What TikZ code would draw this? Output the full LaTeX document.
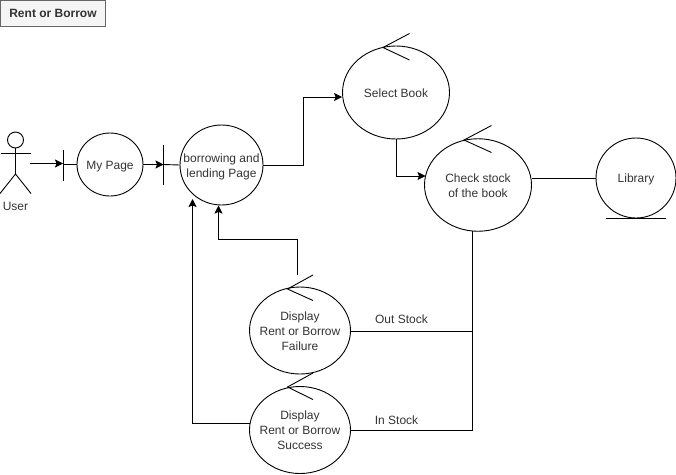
\documentclass[tikz,border=0pt]{standalone}
\usepackage{fontspec}
\setmainfont{Liberation Sans}
\usetikzlibrary{shapes.geometric,arrows.meta}
\newcommand{\objtext}[1]{\raisebox{-1.5pt}[\height][\depth]{\makebox[0pt]{\begin{tabular}{@{}c@{}}#1\end{tabular}}}}
\renewcommand{\arraystretch}{1}
\tikzset{
  every node/.style={font=\fontsize{12}{15}\selectfont,text=black!80,align=center,inner sep=0pt},
  obj/.style={draw=black,ellipse,line width=.9pt,minimum width=#1},
  link/.style={draw=black,line width=.9pt},
  arrowlink/.style={link,-{Stealth[length=8pt,width=8pt,inset=1.5pt]}},
  tick/.style={draw=black,line width=.9pt}
}
\begin{document}
\begin{tikzpicture}[x=1pt,y=-1pt]
\useasboundingbox (0,0) rectangle (676,474);
\node[draw=black!60,fill=black!4,line width=.9pt,minimum width=105pt,minimum height=25.5pt,font=\fontsize{12}{15}\selectfont\bfseries,text=black!80] (title) at (53,13.25) {Rent or Borrow};
% ellipses
\node[obj=66pt,minimum height=63pt] (mypage) at (110,164.5) {\objtext{My Page}};
\node[obj=83pt,minimum height=80pt] (borrow) at (221.5,165) {\objtext{borrowing and\\lending Page}};
\node[obj=107pt,minimum height=93pt] (select) at (396,92.5) {\objtext{Select Book}};
\node[obj=107pt,minimum height=92.5pt] (check) at (478,185) {\objtext{Check stock\\of the book}};
\node[obj=80pt,minimum height=80pt] (library) at (636,178) {\objtext{Library}};
\node[obj=101pt,minimum height=87pt] (failure) at (300,330.5) {\objtext{Display\\Rent or Borrow\\Failure}};
\node[obj=101pt,minimum height=87pt] (success) at (300,430) {\objtext{Display\\Rent or Borrow\\Success}};
% actor
\node[draw=black,circle,line width=.9pt,minimum size=16pt] (head) at (15.5,140) {};
\coordinate (hip) at (15.5,174);
\draw[link] (head.south) -- (hip);
\draw[link] (0.5,153.5) -- (30.5,153.5);
\draw[link] (0,193.5) -- (hip) -- (31,193.5);
\node (user) at (15.5,206.5) {User};
% boundary bars
\coordinate (bar1) at (63.5,164.5);
\coordinate (bar2) at (163.5,164.5);
\draw[link] (63.5,149.5) -- (63.5,180.5);
\draw[link] (163.5,145) -- (163.5,184.5);
\draw[link] (bar1) -- (mypage.west);
\draw[link] (bar2) -- (borrow.west);
% control ticks
\draw[tick] (409.5,33.5) -- (383,47.5) -- (409.5,60);
\draw[tick] (491.5,125.5) -- (464,140) -- (491.5,152.5);
\draw[tick] (313,275) -- (287.5,289) -- (313,300.5);
\draw[tick] (313,373) -- (287.5,387) -- (313,399.5);
% entity bar
\draw[link] (606,218.5) -- (666,218.5);
% connectors
\coordinate (userout) at (30,163.5);
\draw[arrowlink] (userout) -- (63,163.5);
\draw[arrowlink] (mypage.east) -- (bar2);
\draw[arrowlink] (borrow.east) -- (303,165) -- (303,97) -- (select.west|-0,97);
\draw[arrowlink] (select.south) -- (396,176) -- (425.5,176);
\draw[link] (check.east|-0,178.5) -- (library.west|-0,178.5);
\coordinate (junction) at (472.5,331.5);
\draw[link] (472,231) -- (472,331.5) -- (failure.east|-junction);
\draw[link] (472.5,331) -- (472.5,430.5) -- (success.east|-0,430.5);
\coordinate (failtop) at (297.5,275);
\draw[arrowlink] (failtop) -- (297.5,239.5) -- (218.5,239.5) -- (218.5,205.5);
\coordinate (succleft) at (249.7,423.5);
\draw[arrowlink] (succleft) -- (192.5,423.5) -- (192.5,199);
% labels
\node (outstock) at (401.5,318.8) {Out Stock};
\node (instock) at (396.5,419.8) {In Stock};
\end{tikzpicture}
\end{document}
